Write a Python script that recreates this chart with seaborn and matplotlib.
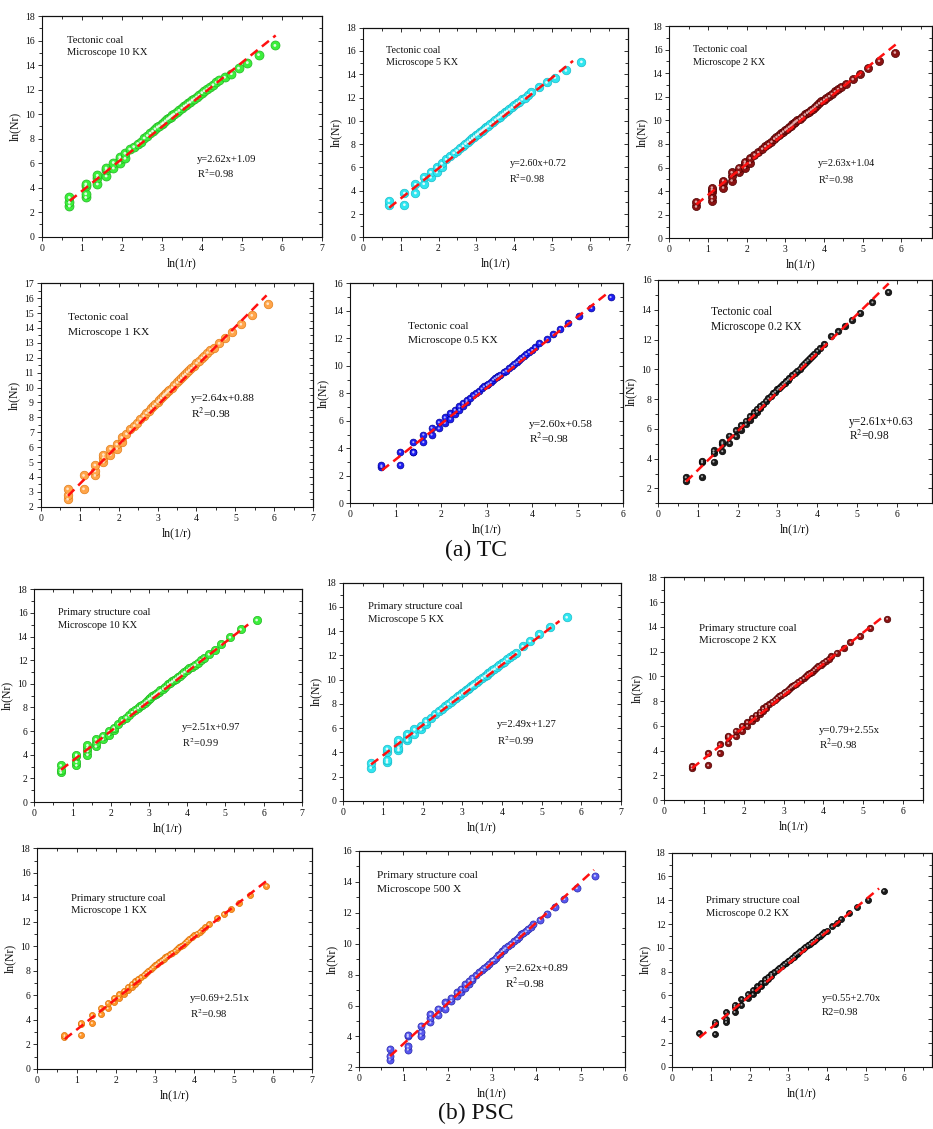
import matplotlib
matplotlib.use("Agg")
import matplotlib.pyplot as plt
from matplotlib.ticker import MultipleLocator
import seaborn as sns

sns.set_theme(style="ticks")
plt.rcParams["font.family"] = ["Liberation Serif", "DejaVu Serif"]
plt.rcParams["mathtext.fontset"] = "stix"

# ---------------- box-counting data: ln(1/r) vs ln(Nr) ----------------
# dense middle section shared by the large-marker series
CORE_X = [2.20, 2.30, 2.40, 2.48, 2.56, 2.64, 2.71, 2.77, 2.83, 2.89, 2.94, 3.00,
          3.04, 3.09, 3.14, 3.18, 3.22, 3.26, 3.30, 3.37, 3.43, 3.50, 3.56, 3.61,
          3.66, 3.71, 3.76, 3.81, 3.87, 3.93, 4.00, 4.06, 4.13, 4.20, 4.28, 4.36]
# middle section of the small-marker series
MID_X = [2.64, 2.71, 2.77, 2.83, 2.89, 2.94, 3.00, 3.04, 3.09, 3.14, 3.18, 3.22,
         3.26, 3.30, 3.37, 3.43, 3.50, 3.56, 3.61, 3.66, 3.71, 3.76, 3.81, 3.87, 3.93]
PAIRED_X = [2.20, 2.20, 2.30, 2.30, 2.40, 2.40, 2.48, 2.48, 2.56, 2.56]

# Tectonic coal, 10 KX
TC10_X = ([0.69, 0.69, 0.69, 1.10, 1.10, 1.10, 1.10, 1.39, 1.39, 1.39, 1.61, 1.61, 1.61,
           1.79, 1.79, 1.95, 1.95, 1.95, 2.08, 2.08] + CORE_X
          + [4.44, 4.57, 4.74, 4.92, 5.14, 5.42, 5.83])
TC10_Y = [2.5, 2.8, 3.2, 3.2, 3.5, 4.1, 4.3, 4.3, 4.8, 5.0, 4.95, 5.4, 5.6,
          5.6, 6.05, 6.0, 6.3, 6.5, 6.4, 6.8,
          7.15, 7.35, 7.6, 7.75, 8.05, 8.25, 8.45, 8.6, 8.8, 8.95, 9.05, 9.2, 9.3, 9.45, 9.6,
          9.7, 9.8, 9.9, 10.0, 10.15, 10.3, 10.5, 10.65, 10.75, 10.9, 11.0, 11.15, 11.25,
          11.4, 11.55, 11.75, 11.9, 12.05, 12.2, 12.4, 12.6,
          12.8, 13.0, 13.3, 13.75, 14.2, 14.85, 15.6]

# Tectonic coal, 5 KX
TC5_X = ([0.69, 0.69, 1.10, 1.10, 1.39, 1.39, 1.61, 1.61, 1.79, 1.79, 1.95, 1.95,
          2.08, 2.08] + CORE_X + [4.45, 4.65, 4.85, 5.07, 5.36, 5.77])
TC5_Y = [2.75, 3.15, 2.8, 3.8, 3.8, 4.55, 4.6, 5.15, 5.15, 5.6, 5.6, 6.0, 6.0, 6.35,
         6.7, 6.95, 7.25, 7.45, 7.65, 7.85, 8.05, 8.2, 8.35, 8.5, 8.65, 8.8, 8.9, 9.05,
         9.15, 9.25, 9.35, 9.45, 9.55, 9.75, 9.9, 10.1, 10.25, 10.35, 10.5, 10.6, 10.75,
         10.85, 11.0, 11.15, 11.35, 11.5, 11.65, 11.85, 12.0, 12.2,
         12.45, 12.9, 13.3, 13.72, 14.33, 15.07]

# Tectonic coal, 2 KX
TC2_X = ([0.69, 0.69, 1.10, 1.10, 1.10, 1.10, 1.10, 1.39, 1.39, 1.39, 1.61, 1.61, 1.61,
          1.79, 1.79, 1.95, 1.95, 1.95, 2.08, 2.08] + CORE_X
         + [4.44, 4.57, 4.74, 4.92, 5.14, 5.42, 5.83])
TC2_Y = [2.7, 3.1, 3.2, 3.5, 3.9, 4.1, 4.3, 4.3, 4.7, 4.9, 4.9, 5.3, 5.6,
         5.6, 6.0, 6.0, 6.3, 6.5, 6.4, 6.8,
         7.1, 7.3, 7.6, 7.8, 8.0, 8.2, 8.45, 8.6, 8.75, 8.9, 9.05, 9.2, 9.3, 9.45, 9.55,
         9.65, 9.8, 9.9, 10.0, 10.15, 10.3, 10.5, 10.65, 10.75, 10.9, 11.0, 11.15, 11.3,
         11.45, 11.6, 11.75, 11.9, 12.05, 12.25, 12.45, 12.65,
         12.85, 13.1, 13.5, 13.9, 14.4, 15.05, 15.75]

# Tectonic coal, 1 KX
TC1_X = ([0.69, 0.69, 0.69, 1.10, 1.10, 1.39, 1.39, 1.39, 1.61, 1.61, 1.61, 1.79, 1.79,
          1.95, 1.95, 2.08, 2.08] + CORE_X + [4.44, 4.58, 4.74, 4.92, 5.14, 5.42, 5.83])
TC1_Y = [2.5, 2.8, 3.2, 3.2, 4.1, 4.1, 4.4, 4.8, 5.0, 5.3, 5.5, 5.5, 5.9,
         5.9, 6.2, 6.35, 6.65,
         6.9, 7.2, 7.45, 7.65, 7.9, 8.1, 8.3, 8.45, 8.6, 8.75, 8.9, 9.05, 9.15, 9.3, 9.45,
         9.55, 9.65, 9.75, 9.85, 10.0, 10.2, 10.35, 10.5, 10.65, 10.8, 10.9, 11.05, 11.15,
         11.3, 11.45, 11.65, 11.8, 12.0, 12.15, 12.35, 12.55,
         12.65, 12.97, 13.3, 13.73, 14.25, 14.85, 15.63]

# Tectonic coal, 0.5 KX
TC05_X = ([0.69, 0.69, 1.10, 1.10, 1.39, 1.39, 1.39, 1.61, 1.61, 1.79, 1.79, 1.95, 1.95,
           2.08, 2.08] + PAIRED_X + MID_X + [4.00, 4.06, 4.16]
          + [4.33, 4.46, 4.61, 4.79, 5.03, 5.30, 5.72])
TC05_Y = [2.65, 2.75, 2.8, 3.75, 3.7, 3.75, 4.45, 4.45, 5.0, 5.0, 5.5, 5.45, 5.9,
          5.85, 6.25, 6.15, 6.55, 6.5, 6.8, 6.8, 7.05, 7.1, 7.3, 7.35, 7.5,
          7.65, 7.85, 8.0, 8.15, 8.35, 8.5, 8.6, 8.7, 8.8, 9.0, 9.1, 9.2, 9.25, 9.35, 9.55,
          9.65, 9.85, 10.0, 10.15, 10.25, 10.4, 10.55, 10.7, 10.85, 11.0, 11.15, 11.35, 11.65,
          11.95, 12.3, 12.68, 13.1, 13.6, 14.2, 15.0]

# Tectonic coal, 0.2 KX
TC02_X = ([0.69, 0.69, 1.10, 1.10, 1.10, 1.39, 1.39, 1.39, 1.61, 1.61, 1.61, 1.79, 1.79,
           1.95, 1.95, 2.08, 2.08] + PAIRED_X + MID_X + [4.00, 4.06, 4.18]
          + [4.36, 4.53, 4.70, 4.87, 5.08, 5.39, 5.79])
TC02_Y = [2.5, 2.75, 2.8, 3.75, 3.85, 3.8, 4.4, 4.55, 4.5, 5.0, 5.1, 5.05, 5.55,
          5.5, 5.9, 5.95, 6.25, 6.3, 6.55, 6.6, 6.85, 6.9, 7.1, 7.15, 7.35, 7.4, 7.55,
          7.7, 7.9, 8.05, 8.2, 8.4, 8.5, 8.65, 8.75, 8.85, 9.0, 9.1, 9.2, 9.3, 9.4, 9.6,
          9.75, 9.9, 10.05, 10.2, 10.35, 10.5, 10.6, 10.75, 10.9, 11.05, 11.25, 11.4, 11.7,
          12.25, 12.55, 12.9, 13.3, 13.8, 14.5, 15.2]

# Primary structure coal, 10 KX
PSC10_X = ([0.69, 0.69, 0.69, 1.10, 1.10, 1.10, 1.10, 1.39, 1.39, 1.39, 1.39, 1.61, 1.61,
            1.61, 1.79, 1.79, 1.95, 1.95, 2.08, 2.08] + CORE_X
           + [4.44, 4.57, 4.73, 4.90, 5.12, 5.40, 5.82])
PSC10_Y = [2.5, 2.7, 3.1, 3.1, 3.4, 3.9, 4.0, 4.0, 4.3, 4.6, 4.8, 4.7, 5.0,
           5.3, 5.3, 5.6, 5.7, 6.0, 6.1, 6.3,
           6.6, 6.9, 7.15, 7.35, 7.6, 7.8, 7.95, 8.1, 8.25, 8.4, 8.55, 8.7, 8.8, 8.95, 9.05,
           9.15, 9.25, 9.35, 9.45, 9.6, 9.75, 9.95, 10.1, 10.2, 10.35, 10.45, 10.6, 10.7,
           10.85, 11.0, 11.15, 11.3, 11.45, 11.6, 11.8, 12.0,
           12.2, 12.5, 12.9, 13.37, 13.94, 14.6, 15.4]

# Primary structure coal, 5 KX
PSC5_X = ([0.69, 0.69, 1.10, 1.10, 1.10, 1.10, 1.39, 1.39, 1.39, 1.39, 1.61, 1.61, 1.61,
           1.79, 1.79, 1.95, 1.95, 2.08, 2.08] + CORE_X
          + [4.52, 4.70, 4.94, 5.21, 5.63])
PSC5_Y = [2.75, 3.1, 3.2, 3.4, 4.0, 4.3, 4.2, 4.4, 4.8, 5.0, 5.0, 5.2, 5.5,
          5.5, 5.9, 5.9, 6.2, 6.35, 6.6,
          6.85, 7.15, 7.4, 7.6, 7.8, 8.0, 8.2, 8.35, 8.5, 8.65, 8.75, 8.9, 9.0, 9.15, 9.25,
          9.35, 9.45, 9.55, 9.65, 9.8, 9.95, 10.15, 10.3, 10.4, 10.55, 10.65, 10.8, 10.9,
          11.05, 11.2, 11.35, 11.5, 11.7, 11.85, 12.0, 12.2,
          12.75, 13.2, 13.75, 14.35, 15.15]

# Primary structure coal, 2 KX
PSC2_X = ([0.69, 0.69, 1.10, 1.10, 1.39, 1.39, 1.61, 1.61, 1.61, 1.79, 1.79, 1.95, 1.95,
           2.08, 2.08] + PAIRED_X + MID_X + [4.00, 4.06, 4.13]
          + [4.20, 4.33, 4.52, 4.68, 4.92, 5.18, 5.60])
PSC2_Y = [2.55, 2.75, 2.8, 3.8, 3.8, 4.5, 4.6, 5.1, 5.2, 5.15, 5.6, 5.6, 6.0,
          6.0, 6.3, 6.35, 6.65, 6.65, 6.9, 6.95, 7.15, 7.2, 7.4, 7.45, 7.6,
          7.75, 7.95, 8.1, 8.25, 8.4, 8.5, 8.65, 8.75, 8.85, 9.0, 9.1, 9.2, 9.3, 9.4, 9.55,
          9.7, 9.85, 10.0, 10.15, 10.25, 10.35, 10.5, 10.65, 10.8, 10.95, 11.1, 11.25, 11.4,
          11.6, 11.9, 12.3, 12.75, 13.25, 13.9, 14.65]

# Primary structure coal, 1 KX
PSC1_X = ([0.69, 0.69, 1.10, 1.10, 1.10, 1.39, 1.39, 1.61, 1.61, 1.79, 1.79, 1.95, 1.95,
           2.08, 2.08] + PAIRED_X + MID_X + [4.00, 4.06, 4.13, 4.20, 4.28]
          + [4.36, 4.57, 4.74, 4.92, 5.14, 5.42, 5.83])
PSC1_Y = [2.6, 2.75, 2.8, 3.65, 3.75, 3.75, 4.4, 4.45, 4.95, 4.95, 5.4, 5.45, 5.8,
          5.8, 6.1, 6.15, 6.4, 6.45, 6.7, 6.7, 6.95, 6.95, 7.15, 7.2, 7.35,
          7.5, 7.7, 7.85, 8.0, 8.15, 8.3, 8.45, 8.55, 8.7, 8.8, 8.9, 9.0, 9.1, 9.2, 9.35,
          9.5, 9.65, 9.8, 9.95, 10.05, 10.15, 10.3, 10.45, 10.6, 10.75,
          10.9, 11.05, 11.2, 11.35, 11.55,
          11.8, 12.3, 12.65, 13.05, 13.55, 14.2, 14.95]

# Primary structure coal, 500 X
PSC500_X = ([0.69, 0.69, 0.69, 1.10, 1.10, 1.10, 1.10, 1.39, 1.39, 1.39, 1.61, 1.61, 1.61,
             1.79, 1.79, 1.95, 1.95, 2.08, 2.08] + PAIRED_X + MID_X
            + [4.08, 4.23, 4.42, 4.63, 4.91, 5.32])
PSC500_Y = [2.5, 2.7, 3.2, 3.15, 3.35, 4.0, 4.1, 4.05, 4.3, 4.7, 4.9, 5.2, 5.45,
            5.4, 5.8, 5.8, 6.2, 6.3, 6.5, 6.6, 6.85, 6.85, 7.1, 7.15, 7.4, 7.4, 7.6, 7.65, 7.8,
            7.95, 8.15, 8.3, 8.45, 8.55, 8.7, 8.9, 8.95, 9.1, 9.25, 9.35, 9.5, 9.6, 9.7, 9.85,
            10.0, 10.15, 10.3, 10.45, 10.6, 10.7, 10.8, 10.95, 11.1, 11.25,
            11.55, 11.95, 12.4, 12.9, 13.6, 14.4]

# Primary structure coal, 0.2 KX
PSC02_X = ([0.69, 1.10, 1.10, 1.10, 1.39, 1.39, 1.39, 1.61, 1.61, 1.61, 1.79, 1.79,
            1.95, 1.95, 2.08, 2.08] + PAIRED_X + MID_X + [4.00]
           + [4.13, 4.25, 4.36, 4.57, 4.79, 5.07, 5.47])
PSC02_Y = [2.8, 2.75, 3.6, 3.8, 3.75, 4.0, 4.6, 4.6, 5.05, 5.2, 5.2, 5.7,
           5.75, 6.1, 6.1, 6.45, 6.45, 6.75, 6.8, 7.05, 7.1, 7.35, 7.4, 7.55, 7.65, 7.8,
           7.95, 8.15, 8.3, 8.45, 8.6, 8.75, 8.9, 9.0, 9.15, 9.25, 9.4, 9.5, 9.6, 9.7, 9.9,
           10.05, 10.2, 10.35, 10.5, 10.6, 10.75, 10.9, 11.0, 11.15, 11.3, 11.45,
           11.8, 12.1, 12.45, 12.95, 13.4, 14.05, 14.8]

SERIES_X = [TC10_X, TC5_X, TC2_X, TC1_X, TC05_X, TC02_X,
            PSC10_X, PSC5_X, PSC2_X, PSC1_X, PSC500_X, PSC02_X]
SERIES_Y = [TC10_Y, TC5_Y, TC2_Y, TC1_Y, TC05_Y, TC02_Y,
            PSC10_Y, PSC5_Y, PSC2_Y, PSC1_Y, PSC500_Y, PSC02_Y]

# linear fits: ln(Nr) = slope * ln(1/r) + intercept
SLOPES = [2.62, 2.60, 2.63, 2.64, 2.60, 2.61, 2.51, 2.49, 2.55, 2.51, 2.62, 2.70]
INTERCEPTS = [1.09, 0.72, 1.04, 0.88, 0.58, 0.63, 0.97, 1.27, 0.79, 0.69, 0.89, 0.55]
R_SQUARED = [0.98, 0.98, 0.98, 0.98, 0.98, 0.98, 0.99, 0.99, 0.98, 0.98, 0.98, 0.98]
INTERCEPT_FIRST = [False] * 8 + [True, True, False, True]

COAL_TYPES = ["Tectonic coal"] * 6 + ["Primary structure coal"] * 6
MAGNIFICATIONS = ["Microscope 10 KX", "Microscope 5 KX", "Microscope 2 KX",
                  "Microscope 1 KX", "Microscope 0.5 KX", "Microscope 0.2 KX",
                  "Microscope 10 KX", "Microscope 5 KX", "Microscope 2 KX",
                  "Microscope 1 KX", "Microscope 500 X", "Microscope 0.2 KX"]
GROUP_CAPTIONS = ["(a) TC", "(b) PSC"]

# ---------------- layout & style ----------------
W, H = 933, 1129
GREEN = ("#3cef3c", "#22b622", "white")
CYAN = ("#30e6f0", "#18bcca", "white")
DARKRED = ("#8a1212", "#4e0000", "#f2c4c4")
ORANGE = ("#ffa54a", "#e27c18", "#fff0dc")
ORANGE2 = ("#ff9628", "#dc7006", "#fff0dc")
BLUE = ("#1e1ef0", "#00009a", "#c8c8ff")
VIOLET = ("#5858ee", "#2828aa", "#e0e0ff")
BLACK = ("#1c1c1c", "#000000", "#c8c8c8")

# (left, top, right, bottom) px, xmax, ylim, ystep, title pos, eq pos, font, marker size, colours, fit end
PANELS = [
    ((41.7, 16, 321.7, 236.7), 7, (0, 18), 2, (0.089, 0.888, 0.834), (0.554, 0.348, 0.284), 7.6, 42, GREEN, 5.85),
    ((362.7, 27.7, 628, 237.3), 7, (0, 18), 2, (0.087, 0.890, 0.835), (0.553, 0.350, 0.278), 7.3, 38, CYAN, 5.55),
    ((669.3, 26, 932, 238.3), 6.79, (0, 18), 2, (0.091, 0.887, 0.829), (0.566, 0.350, 0.279), 7.3, 34, DARKRED, 5.85),
    ((40.7, 283.3, 313.3, 506.7), 7, (2, 17), 1, (0.101, 0.846, 0.779), (0.551, 0.485, 0.418), 8.2, 38, ORANGE, 5.8),
    ((350, 283.3, 623.3, 503.3), 6, (0, 16), 2, (0.213, 0.803, 0.738), (0.656, 0.360, 0.295), 8.2, 24, BLUE, 5.7),
    ((658.3, 280, 932, 503.3), 6.89, (1, 16), 2, (0.194, 0.855, 0.791), (0.698, 0.365, 0.301), 8.3, 22, BLACK, 5.8),
    ((34.3, 589.3, 301.7, 802), 7, (0, 18), 2, (0.0875, 0.890, 0.832), (0.553, 0.349, 0.279), 7.5, 36, GREEN, 5.6),
    ((343.3, 582.7, 621, 801), 7, (0, 18), 2, (0.090, 0.893, 0.832), (0.552, 0.351, 0.279), 7.7, 38, CYAN, 5.45),
    ((664.3, 577.3, 923.3, 800), 6.51, (0, 18), 2, (0.134, 0.771, 0.714), (0.598, 0.314, 0.250), 7.8, 22, DARKRED, 5.5),
    ((37.3, 848.3, 312.3, 1069), 7, (0, 18), 2, (0.1225, 0.773, 0.716), (0.555, 0.320, 0.252), 7.7, 19, ORANGE2, 5.85),
    ((359, 851, 625, 1067.3), 6, (2, 16), 2, (0.069, 0.886, 0.820), (0.549, 0.458, 0.388), 8.2, 26, VIOLET, 5.3),
    ((672.3, 852.7, 932, 1066.7), 6.72, (0, 18), 2, (0.128, 0.776, 0.717), (0.574, 0.320, 0.252), 7.6, 19, BLACK, 5.35),
]
FIT_START = 0.7
CAPTION_Y = [550, 1113]

fig = plt.figure(figsize=(W / 100, H / 100), dpi=100)
fig.patch.set_facecolor("white")


def style_frame(ax, xmax, ylim, ystep):
    ax.set_xlim(0, xmax)
    ax.set_ylim(*ylim)
    ax.xaxis.set_major_locator(MultipleLocator(1))
    ax.xaxis.set_minor_locator(MultipleLocator(0.5))
    ax.yaxis.set_major_locator(MultipleLocator(ystep))
    ax.yaxis.set_minor_locator(MultipleLocator(ystep / 2))
    ax.tick_params(which="both", direction="out", top=False, right=False,
                   width=0.6, colors="#111111", labelsize=7, pad=2)
    ax.tick_params(which="major", length=3)
    ax.tick_params(which="minor", length=2)
    for sp in ax.spines.values():
        sp.set_visible(True)
        sp.set_linewidth(0.8)
        sp.set_color("#111111")
    # mirrored ticks pointing inward on the top and right edges
    top = ax.secondary_xaxis("top")
    top.xaxis.set_major_locator(MultipleLocator(1))
    top.xaxis.set_minor_locator(MultipleLocator(0.5))
    top.tick_params(which="both", direction="in", labeltop=False, width=0.6, colors="#111111")
    top.tick_params(which="major", length=3)
    top.tick_params(which="minor", length=2)
    right = ax.secondary_yaxis("right")
    right.yaxis.set_major_locator(MultipleLocator(ystep))
    right.yaxis.set_minor_locator(MultipleLocator(ystep / 2))
    right.tick_params(which="both", direction="in", labelright=False, width=0.6, colors="#111111")
    right.tick_params(which="major", length=3)
    right.tick_params(which="minor", length=2)
    for sec in (top, right):
        for sp in sec.spines.values():
            sp.set_linewidth(0.8)
            sp.set_color("#111111")


for i, (box, xmax, ylim, ystep, tpos, epos, fs, msize, colors, fit_end) in enumerate(PANELS):
    l, t, r, b = box
    ax = fig.add_axes([l / W, 1 - b / H, (r - l) / W, (b - t) / H])
    ax.set_facecolor("white")
    face, edge, shine = colors
    xs, ys = SERIES_X[i], SERIES_Y[i]

    sns.scatterplot(x=xs, y=ys, ax=ax, s=msize, color=face, edgecolor=edge,
                    linewidth=0.5, legend=False, zorder=3)
    sns.scatterplot(x=xs, y=ys, ax=ax, s=msize * 0.1, color=shine, edgecolor="none",
                    alpha=0.85, legend=False, zorder=3.5)

    a, c = SLOPES[i], INTERCEPTS[i]
    ax.plot([FIT_START, fit_end], [a * FIT_START + c, a * fit_end + c],
            color="#ff1010", lw=1.8, dashes=(3.6, 2.2), zorder=4, solid_capstyle="butt")

    style_frame(ax, xmax, ylim, ystep)
    ax.set_xlabel("ln(1/r)", fontsize=8.5, labelpad=3, color="#111111")
    ax.set_ylabel("ln(Nr)", fontsize=8.5, labelpad=3, color="#111111")

    tx, ty1, ty2 = tpos
    ax.text(tx, ty1, COAL_TYPES[i], transform=ax.transAxes, fontsize=fs,
            va="center", ha="left", color="#111111")
    ax.text(tx, ty2, MAGNIFICATIONS[i], transform=ax.transAxes, fontsize=fs,
            va="center", ha="left", color="#111111")

    if INTERCEPT_FIRST[i]:
        eq = f"y={c:.2f}+{a:.2f}x"
    else:
        eq = f"y={a:.2f}x+{c:.2f}"
    r2 = f"R2={R_SQUARED[i]:.2f}" if i == 11 else f"R$^2$={R_SQUARED[i]:.2f}"
    ex, ey1, ey2 = epos
    ax.text(ex, ey1, eq, transform=ax.transAxes, fontsize=fs,
            va="center", ha="left", color="#111111")
    ax.text(ex, ey2, r2, transform=ax.transAxes, fontsize=fs,
            va="center", ha="left", color="#111111")

for cap, cy in zip(GROUP_CAPTIONS, CAPTION_Y):
    fig.text(476 / W, 1 - cy / H, cap, fontsize=17, ha="center", va="center", color="#111111")

fig.savefig("out.png", dpi=100, facecolor="white")
